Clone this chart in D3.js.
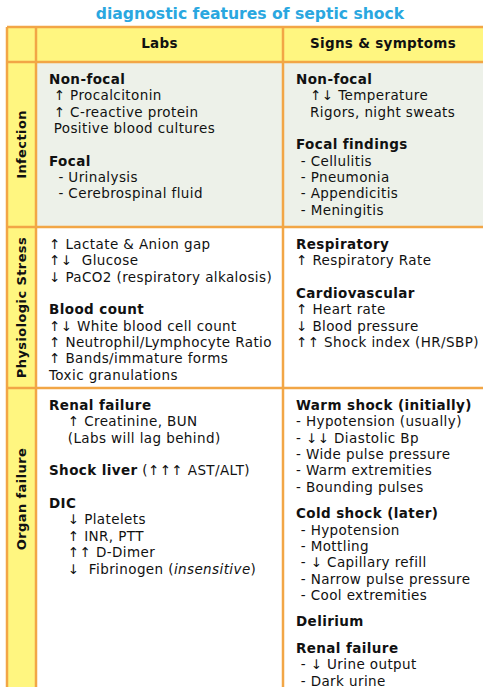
<!DOCTYPE html>
<html><head><meta charset="utf-8">
<script src="https://cdn.jsdelivr.net/npm/d3@7"></script>
<style>body{margin:0;background:#fff}svg{display:block}text{font-family:Verdana,"DejaVu Sans",sans-serif}</style>
</head><body><svg id="c" width="483" height="687"></svg>
<script>
const title = "diagnostic features of septic shock";
const columns = ["Labs", "Signs & symptoms"];
const rows = ["Infection", "Physiologic Stress", "Organ failure"];
// "**" bold, "_" italic, "" blank line, "~" partial blank line
const labs = [
  ["**Non-focal**", " ↑ Procalcitonin", " ↑ C-reactive protein", " Positive blood cultures", "", "**Focal**", "  - Urinalysis", "  - Cerebrospinal fluid"],
  ["↑ Lactate & Anion gap", "↑↓  Glucose", "↓ PaCO2 (respiratory alkalosis)", "", "**Blood count**", "↑↓ White blood cell count", "↑ Neutrophil/Lymphocyte Ratio", "↑ Bands/immature forms", "Toxic granulations"],
  ["**Renal failure**", "    ↑ Creatinine, BUN", "    (Labs will lag behind)", "", "**Shock liver** (↑↑↑ AST/ALT)", "", "**DIC**", "    ↓ Platelets", "    ↑ INR, PTT", "    ↑↑ D-Dimer", "    ↓  Fibrinogen (_insensitive_)"]
];
const signs = [
  ["**Non-focal**", "   ↑↓ Temperature", "   Rigors, night sweats", "", "**Focal findings**", " - Cellulitis", " - Pneumonia", " - Appendicitis", " - Meningitis"],
  ["**Respiratory**", "↑ Respiratory Rate", "", "**Cardiovascular**", "↑ Heart rate", "↓ Blood pressure", "↑↑ Shock index (HR/SBP)"],
  ["**Warm shock (initially)**", "- Hypotension (usually)", "- ↓↓ Diastolic Bp", "- Wide pulse pressure", "- Warm extremities", "- Bounding pulses", "~", "**Cold shock (later)**", " - Hypotension", " - Mottling", " - ↓ Capillary refill", " - Narrow pulse pressure", " - Cool extremities", "~", "**Delirium**", "~", "**Renal failure**", " - ↓ Urine output", " - Dark urine"]
];

const svg = d3.select("#c");
const W = 483, H = 687;
const xEdges = [7, 36, 283, 483];
const yEdges = [27, 62, 227, 388, 690];
const rowFill = ["#edf1e9", "#ffffff", "#ffffff"];
const yellow = "#fff680", orange = "#f2a646";
const lh = 16.35;

svg.append("text").attr("x", 250).attr("y", 19).attr("text-anchor", "middle")
  .attr("font-size", 15.6).attr("font-weight", "bold").attr("fill", "#2aa7e0").text(title);

svg.append("rect").attr("x", xEdges[0]).attr("y", yEdges[0]).attr("width", W - xEdges[0]).attr("height", yEdges[1] - yEdges[0]).attr("fill", yellow);
rows.forEach((r, i) => {
  svg.append("rect").attr("x", xEdges[0]).attr("y", yEdges[i + 1]).attr("width", xEdges[1] - xEdges[0]).attr("height", yEdges[i + 2] - yEdges[i + 1]).attr("fill", yellow);
  svg.append("rect").attr("x", xEdges[1]).attr("y", yEdges[i + 1]).attr("width", W - xEdges[1]).attr("height", yEdges[i + 2] - yEdges[i + 1]).attr("fill", rowFill[i]);
  const cy = (yEdges[i + 1] + yEdges[i + 2]) / 2 + (i === 2 ? -40 : 0);
  svg.append("text").attr("transform", `translate(26,${cy}) rotate(-90)`).attr("text-anchor", "middle")
    .attr("font-size", 13).attr("letter-spacing", 0.4).attr("font-weight", "bold").attr("fill", "#111").text(r);
});
columns.forEach((c, j) => {
  svg.append("text").attr("x", (xEdges[j + 1] + xEdges[j + 2]) / 2).attr("y", 48).attr("text-anchor", "middle")
    .attr("font-size", 13.5).attr("letter-spacing", 0.3).attr("font-weight", "bold").attr("fill", "#111").text(c);
});
const g = svg.append("g").attr("stroke", orange).attr("stroke-width", 2.5).attr("fill", "none");
xEdges.slice(0, 3).forEach(x => g.append("line").attr("x1", x).attr("x2", x).attr("y1", yEdges[0]).attr("y2", H));
yEdges.slice(0, 4).forEach(y => g.append("line").attr("x1", xEdges[0]).attr("x2", W).attr("y1", y).attr("y2", y));

function cell(lines, x, top) {
  let y = top + 22;
  lines.forEach(line => {
    if (line === "") { y += lh; return; }
    if (line === "~") { y += lh * 0.62; return; }
    const tx = svg.append("text").attr("x", x).attr("y", y).attr("font-size", 13.5)
      .attr("letter-spacing", 0.4).attr("fill", "#111").style("white-space", "pre");
    line.split(/(\*\*[^*]+\*\*|_[^_]+_)/).filter(s => s).forEach(s => {
      const sp = tx.append("tspan");
      if (s.startsWith("**")) sp.attr("font-weight", "bold").text(s.slice(2, -2));
      else if (s.startsWith("_")) sp.attr("font-style", "italic").text(s.slice(1, -1));
      else sp.text(s);
    });
    y += lh;
  });
}
rows.forEach((r, i) => {
  cell(labs[i], 49, yEdges[i + 1]);
  cell(signs[i], 296, yEdges[i + 1]);
});
</script></body></html>
